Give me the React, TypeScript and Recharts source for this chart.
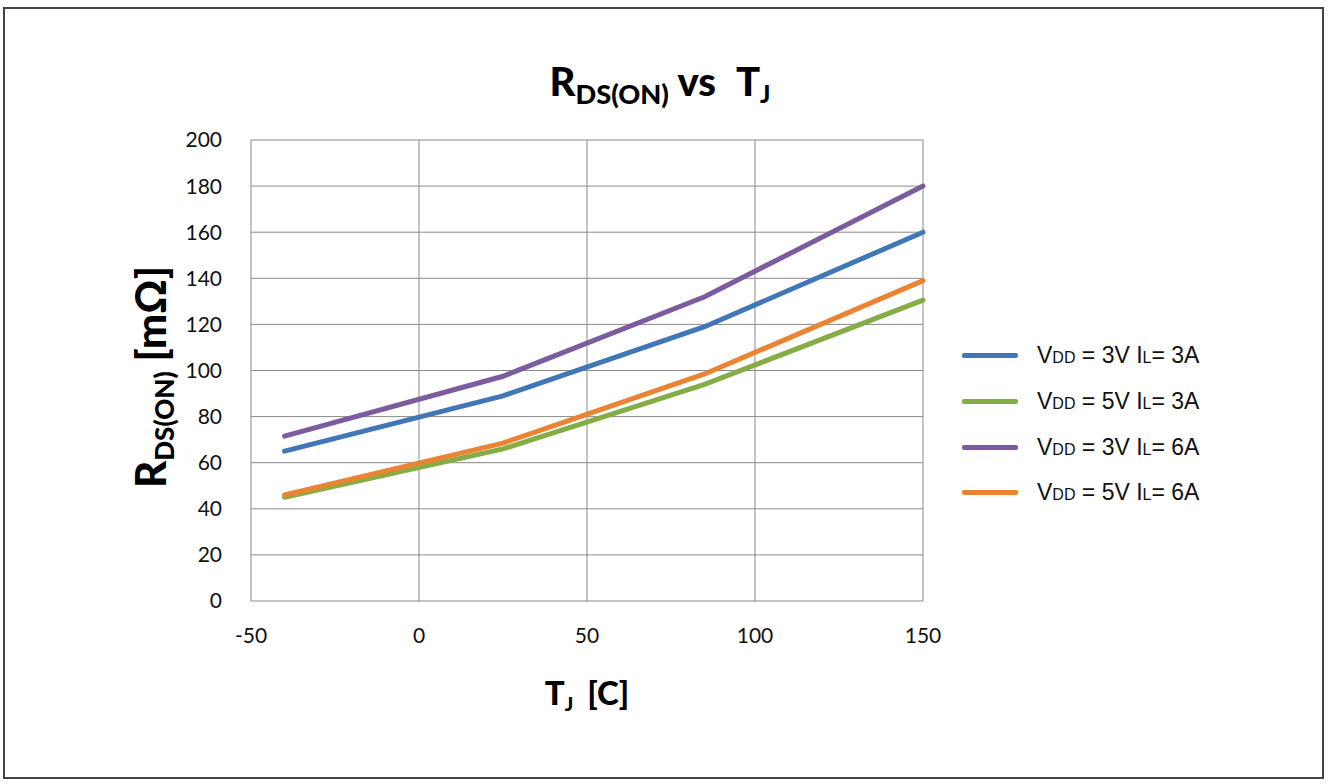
import React from 'react';
import { LineChart, Line, XAxis, YAxis, CartesianGrid, Legend } from 'recharts';

const temps = [-40, 25, 85, 150];
const vdd3il3 = [65, 89, 119, 160];
const vdd5il3 = [45, 66, 94, 130.5];
const vdd3il6 = [71.5, 97.5, 132, 180];
const vdd5il6 = [46, 68.5, 98.5, 139];

const xTicks = [-50, 0, 50, 100, 150];
const yTicks = [0, 20, 40, 60, 80, 100, 120, 140, 160, 180, 200];

const SERIES = [
  { key: 'a', vdd: '3V', il: '3A', color: '#4177b6', values: vdd3il3 },
  { key: 'b', vdd: '5V', il: '3A', color: '#84ad45', values: vdd5il3 },
  { key: 'c', vdd: '3V', il: '6A', color: '#7a5c9f', values: vdd3il6 },
  { key: 'd', vdd: '5V', il: '6A', color: '#ea8433', values: vdd5il6 },
];

const data = temps.map((t, i) => {
  const row: Record<string, number> = { t };
  SERIES.forEach((s) => {
    row[s.key] = s.values[i];
  });
  return row;
});

const CAL = 'Lato, "Open Sans", sans-serif';
const ARIAL = '"Liberation Sans", Arial, sans-serif';

const sub = (scale: number): React.CSSProperties => ({
  fontSize: `${scale}em`,
  position: 'relative',
  top: '0.3em',
});

const renderLegend = () => (
  <div style={{ fontFamily: ARIAL, fontSize: 23, color: '#111' }}>
    {SERIES.map((s) => (
      <div key={s.key} style={{ display: 'flex', alignItems: 'center', height: 45.7 }}>
        <div style={{ width: 56, height: 5, background: s.color, borderRadius: 2, marginRight: 19 }} />
        <span style={{ whiteSpace: 'nowrap' }}>
          V<span style={{ fontSize: 16 }}>DD</span> = {s.vdd} I<span style={{ fontSize: 16 }}>L</span>= {s.il}
        </span>
      </div>
    ))}
  </div>
);

const App: React.FC = () => {
  return (
    <div
      style={{
        position: 'absolute',
        left: 0,
        top: 0,
        width: 1330,
        height: 784,
        background: '#fff',
      }}
    >
      <div
        style={{
          position: 'absolute',
          left: 3,
          top: 7,
          width: 1321,
          height: 772,
          border: '2px solid #444',
          boxSizing: 'border-box',
        }}
      />
      <LineChart
        width={1330}
        height={784}
        data={data}
        margin={{ top: 140, right: 407, bottom: 153, left: 191 }}
      >
        <CartesianGrid stroke="#8a8a8a" strokeWidth={1} />
        <XAxis
          dataKey="t"
          type="number"
          domain={[-50, 150]}
          ticks={xTicks}
          tickLine={false}
          axisLine={false}
          tickSize={0}
          tickMargin={27}
          height={30}
          tick={{ fill: '#111', fontSize: 21, fontFamily: CAL }}
        />
        <YAxis
          type="number"
          domain={[0, 200]}
          ticks={yTicks}
          tickLine={false}
          axisLine={false}
          tickSize={0}
          tickMargin={29}
          width={60}
          tick={{ fill: '#111', fontSize: 21, fontFamily: CAL }}
        />
        {SERIES.map((s) => (
          <Line
            key={s.key}
            dataKey={s.key}
            type="linear"
            stroke={s.color}
            strokeWidth={5}
            strokeLinecap="round"
            dot={false}
            isAnimationActive={false}
          />
        ))}
        <Legend
          layout="vertical"
          align="center"
          verticalAlign="middle"
          content={renderLegend}
          wrapperStyle={{ left: 962, top: 333, width: 320 }}
        />
      </LineChart>
      <div
        style={{
          position: 'absolute',
          left: 660,
          top: 81,
          transform: 'translate(-50%, -50%)',
          fontFamily: CAL,
          fontWeight: 900,
          fontSize: 40,
          color: '#000',
          whiteSpace: 'nowrap',
        }}
      >
        R<span style={sub(0.68)}>DS(ON)</span> vs<span style={{ marginLeft: 20 }}>T</span>
        <span style={sub(0.6)}>J</span>
      </div>
      <div
        style={{
          position: 'absolute',
          left: 150,
          top: 377,
          transform: 'translate(-50%, -50%) rotate(-90deg)',
          fontFamily: CAL,
          fontWeight: 900,
          fontSize: 42,
          color: '#000',
          whiteSpace: 'nowrap',
        }}
      >
        R<span style={sub(0.62)}>DS(ON)</span> [mΩ]
      </div>
      <div
        style={{
          position: 'absolute',
          left: 587,
          top: 692,
          transform: 'translate(-50%, -50%)',
          fontFamily: CAL,
          fontWeight: 900,
          fontSize: 33,
          color: '#000',
          whiteSpace: 'nowrap',
        }}
      >
        T<span style={sub(0.6)}>J</span>
        <span style={{ marginLeft: 14 }}>[C]</span>
      </div>
    </div>
  );
};

export default App;
